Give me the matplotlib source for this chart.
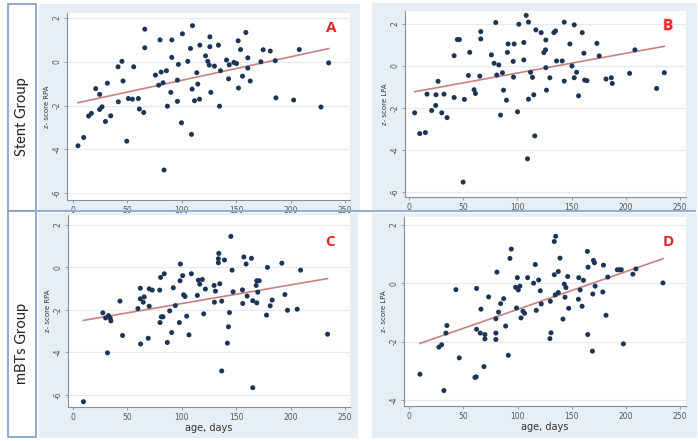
import numpy as np
import matplotlib
matplotlib.use("Agg")
import matplotlib.pyplot as plt
import matplotlib.patheffects as pe
from matplotlib.patches import Rectangle
from matplotlib.lines import Line2D

# ---------------- data ----------------
a_age = [4.6, 9.8, 14.4, 16.9, 20.9, 24.5, 24.5, 26.7, 29.8, 31.6, 34.7, 41.4, 41.7, 45, 46, 49.4,
         50.9, 54.6, 55.8, 60.1, 61, 65, 66, 66, 75.8, 80, 78.8, 81, 82.8, 83.7, 85.9, 86.8, 89.9,
         90.8, 90.8, 96, 96, 96.9, 99.7, 100.6, 105.5, 108, 108.9, 109.5, 109.8, 111.7, 113.8,
         114.7, 116.3, 116.6, 121.8, 123.9, 125.2, 125.8, 125.8, 126.7, 130, 133.7, 134.7, 135.6,
         141.1, 143, 143.6, 147.9, 150.3, 151.8, 152.1, 154, 155.8, 158.9, 160.7, 160.7, 162.9,
         172.7, 174.8, 181.3, 185.9, 186.5, 202.8, 208, 227.9, 235]
a_z = [-3.84, -3.46, -2.48, -2.36, -1.23, -1.49, -2.18, -2.06, -2.73, -0.98, -2.47, -0.23, -1.83,
       0.02, -0.88, -3.63, -1.68, -1.71, -0.23, -1.68, -2.16, -2.32, 1.49, 0.64, -0.61, 1.0, -1.07,
       -0.47, -0.96, -4.95, -0.41, -2.03, -1.40, 1.0, 0.2, -0.84, -1.81, -0.12, -2.79, 1.28, 0.02,
       0.61, -3.32, -1.25, 1.65, -1.78, -0.50, -1.02, -1.71, 0.76, 0.27, 0.02, -0.15, 1.14, 0.69,
       -1.40, -0.20, 0.76, -2.03, -0.41, 0.08, -0.78, -0.14, -0.03, -0.08, 0.96, -1.20, 0.56, -0.66,
       1.34, 0.18, -0.29, -0.88, 0.0, 0.55, 0.49, 0.05, -1.65, -1.75, 0.56, -2.07, -0.05]

b_age = [5.2, 9.9, 15.1, 16.6, 20.9, 24.6, 24.9, 26.8, 30.2, 32.3, 35.1, 41.6, 41.6, 44.6, 46.5,
         49.9, 51.1, 54.8, 56, 60, 61.3, 65.3, 66.2, 66.2, 76, 78.5, 80, 81, 82.8, 84.4, 86.2, 87.2,
         89.9, 90.8, 91.4, 96.1, 96.4, 97, 100.1, 101.3, 105.9, 105.9, 108.1, 109.3, 110.2, 110.2,
         112.1, 113.9, 115.1, 116, 117, 121.9, 124.4, 125.9, 126.2, 126.2, 126.8, 129.9, 133.6,
         135.2, 136.1, 141.3, 143.2, 143.2, 148.4, 150.3, 152.4, 152.4, 154.6, 156.4, 159.8, 161.3,
         162, 164.1, 173.3, 175.4, 181.7, 186.6, 187.5, 203.5, 208.4, 228.4, 235.5]
b_z = [-2.23, -3.22, -3.17, -1.34, -2.12, -1.88, -1.37, -0.73, -2.23, -1.34, -2.46, 0.49, -1.50,
       1.26, 1.26, -5.53, -1.59, -0.45, 0.65, -1.13, -1.31, -0.48, 1.29, 1.64, 0.53, 0.13, 2.07,
       -0.43, 0.05, -2.34, -0.32, -1.15, -1.63, 0.65, 1.05, 0.22, -0.53, 1.05, -2.18, 1.99, 0.29,
       1.12, 2.41, -4.42, 2.09, -1.58, -0.30, -0.54, -1.37, -3.33, 1.72, 1.59, 0.64, 0.77, 1.24,
       -0.08, -1.15, -0.56, 1.59, 1.67, 0.24, 0.24, -0.72, 2.09, 1.05, 0.0, 1.96, -0.56, -0.30,
       -1.42, 1.59, 0.61, -0.67, -0.70, 1.08, 0.48, -0.62, -0.56, -0.83, -0.35, 0.77, -1.07, -0.32]

c_age = [9.8, 27.6, 30.1, 31.9, 32.8, 34.4, 35, 43.3, 45.7, 59.8, 62, 62, 62.3, 64.7, 65.6, 69.3,
         70.2, 70.2, 73, 79.8, 80.1, 80.7, 81.3, 82.8, 84, 86.8, 89, 90.8, 92.3, 94.2, 97.9, 98.5,
         98.8, 100.9, 101.8, 103.1, 104.6, 106.7, 108.9, 114.4, 115.3, 116.6, 119, 120.2, 121.8,
         129.8, 130.1, 131, 134.1, 133.7, 133.7, 135, 136.8, 136.8, 139.3, 142, 143, 143.9, 145.2,
         146.3, 147.2, 155.8, 156.1, 157.1, 159.2, 160.1, 164.1, 165.3, 165.3, 168.4, 169, 169,
         169.9, 171.2, 178.8, 177.9, 181.3, 183.1, 192, 194.8, 197.2, 206.1, 209.2, 234]
c_z = [-6.33, -2.14, -2.38, -4.03, -2.27, -2.39, -2.52, -1.59, -3.21, -1.94, -1.48, -0.98, -3.61,
       -1.64, -1.39, -3.34, -1.83, -1.01, -1.07, -1.07, -2.60, -0.47, -2.33, -2.33, -0.30, -3.54,
       -2.05, -3.07, -0.96, -1.80, -2.60, -0.63, 0.16, -0.39, -1.29, -1.37, -2.30, -3.18, -0.30,
       -1.32, -0.60, -0.79, -0.57, -2.19, -1.02, -0.85, -1.64, -1.12, 0.66, 0.41, 0.22, -0.77,
       -1.59, -4.88, 0.35, -3.57, -2.80, -2.13, 1.46, -0.13, -1.15, -1.06, -1.70, 0.49, 0.16,
       -1.35, 0.43, -1.57, -5.67, -0.85, -0.63, -1.67, -1.17, -0.63, 0.0, -2.25, -1.81, -1.54,
       0.20, -1.28, -2.02, -1.97, -0.13, -3.15]

d_age = [9.9, 27.4, 29.9, 32, 33.9, 34.8, 43.1, 46.2, 60.7, 61.9, 62.2, 62.2, 65.6, 66.2, 69, 69.9,
         69.9, 73.3, 80, 80, 80, 81, 82.5, 84.4, 87.2, 89, 91.5, 93, 94.2, 98.2, 99.1, 99.8, 100.7,
         102.2, 103.2, 105, 106.5, 109.3, 114.8, 116.4, 117.3, 119.5, 121, 121.9, 129.9, 130.3,
         130.9, 133.9, 133.9, 135.2, 134.8, 137.6, 137.6, 139.2, 141.9, 143.2, 143.8, 144.7, 146.3,
         147.2, 156.2, 156.5, 157.8, 159.6, 160.8, 164.5, 164.8, 165.1, 169.1, 169.5, 170.1, 171,
         171.6, 178.7, 179.3, 181.7, 183.3, 192.1, 194, 195.8, 197.7, 206.5, 209.3, 234.2]
d_z = [-3.12, -2.19, -2.11, -3.68, -1.71, -1.45, -0.22, -2.56, -3.23, -3.21, -0.18, -1.58, -1.71,
       -0.89, -2.86, -1.76, -1.91, -0.47, -1.22, -1.71, -1.93, 0.38, -0.99, -0.70, -0.53, -1.47,
       -2.47, 0.85, 1.17, -0.14, -0.85, 0.19, -0.23, -0.10, -1.19, -0.96, -1.03, 0.19, 0.0, 0.64,
       -0.93, 0.11, -0.26, -0.71, -1.90, -0.62, -1.70, 0.29, 1.43, 1.61, -0.40, -0.32, 0.40, 0.86,
       -1.23, -0.03, -0.48, -0.15, 0.23, -0.86, -0.55, 0.19, -0.23, -0.79, 0.10, 1.09, -1.76, 0.55,
       -2.33, -0.37, 0.78, 0.70, -0.10, -0.30, 0.62, -1.10, 0.21, 0.46, 0.46, 0.46, -2.08, 0.31,
       0.49, 0.01]

panel_letters = ["A", "B", "C", "D"]
y_labels = ["z- score RPA", "z- score LPA", "z- score RPA", "z- score LPA"]
x_ticks = [0, 50, 100, 150, 200, 250]
y_ticks_abc = [2, 0, -2, -4, -6]
y_ticks_d = [2, 0, -2, -4]
group_labels = ["Stent Group", "mBTs Group"]
x_title = "age, days"

# ---------------- figure ----------------
W, H = 698, 441
fig = plt.figure(figsize=(W / 100, H / 100), dpi=100)
fig.patch.set_facecolor("white")

def fr(x0, y0, x1, y1):
    """pixel box (top-left origin) -> figure fraction rect"""
    return [x0 / W, 1 - y1 / H, (x1 - x0) / W, (y1 - y0) / H]

BG = "#e7eff5"
# panel backgrounds
for (x0, y0, x1, y1) in [(39, 4, 360, 210), (372, 3, 697, 210), (39, 213, 358, 438), (372, 213, 697, 438)]:
    r = fr(x0, y0, x1, y1)
    fig.patches.append(Rectangle((r[0], r[1]), r[2], r[3], transform=fig.transFigure,
                                 facecolor=BG, edgecolor="none", zorder=-3))

# group label boxes
BOX = "#7f9ccb"
for (x0, y0, x1, y1), lab, cy in [((8, 4, 36, 211), group_labels[0], 117),
                                  ((8, 211, 36, 437), group_labels[1], 343)]:
    r = fr(x0, y0, x1, y1)
    fig.patches.append(Rectangle((r[0], r[1]), r[2], r[3], transform=fig.transFigure,
                                 facecolor="white", edgecolor=BOX, linewidth=1.2, zorder=-2))
    fig.text(22 / W, 1 - cy / H, lab, rotation=90, ha="center", va="center",
             fontsize=10.5, family="Lato", color="#222222")

# separator line
fig.lines.append(Line2D([36 / W, 695 / W], [1 - 211 / H, 1 - 211 / H], transform=fig.transFigure,
                        color="#8fb0d8", linewidth=1.5, zorder=5))

# axes specs: pixel box, xlim, ylim
specs = [
    ((67, 13, 350, 200), (-5.5, 254.6), (-6.32, 2.23), y_ticks_abc, a_age, a_z, (331, 28)),
    ((405, 11, 686, 197), (-3.7, 255.5), (-6.24, 2.62), y_ticks_abc, b_age, b_z, (668, 26)),
    ((68, 215, 350, 407), (-4.4, 254.6), (-6.58, 2.47), y_ticks_abc, c_age, c_z, (330, 242)),
    ((404, 217, 686, 406), (-4.8, 255.5), (-4.21, 2.27), y_ticks_d, d_age, d_z, (668, 242)),
]

DOT = "#1c3556"
LINE = "#c98080"
SPINE = "#8a8f94"
GRID = "#e4ebf0"

for i, (box, xl, yl, yt, xs, ys, lpos) in enumerate(specs):
    ax = fig.add_axes(fr(*box))
    ax.set_zorder(1)
    ax.set_facecolor("white")
    ax.set_xlim(*xl)
    ax.set_ylim(*yl)
    for s in ["top", "right"]:
        ax.spines[s].set_visible(False)
    for s in ["left", "bottom"]:
        ax.spines[s].set_color(SPINE)
        ax.spines[s].set_linewidth(0.8)
    ax.set_xticks(x_ticks)
    ax.set_yticks(yt)
    ax.set_yticklabels([str(v) for v in yt])
    ax.tick_params(axis="both", colors=SPINE, labelcolor="#555555", labelsize=5.5,
                   length=2.5, width=0.6, pad=1.5)
    ax.tick_params(axis="y", labelrotation=90)
    for t in ax.get_yticklabels():
        t.set_va("center")
    ax.grid(axis="y", color=GRID, linewidth=0.8)
    ax.set_axisbelow(True)
    ax.set_ylabel(y_labels[i], fontsize=5, color="#333333", labelpad=2)
    if i >= 2:
        ax.set_xlabel(x_title, fontsize=7, color="#333333", labelpad=1)

    xa = np.asarray(xs, float)
    ya = np.asarray(ys, float)
    ax.scatter(xa, ya, s=13, color=DOT, edgecolors="none", zorder=3)
    k, b0 = np.polyfit(xa, ya, 1)
    xx = np.array([xa.min(), xa.max()])
    ax.plot(xx, k * xx + b0, color=LINE, linewidth=1.2, zorder=2)

    txt = fig.text(lpos[0] / W, 1 - lpos[1] / H, panel_letters[i], ha="center", va="center",
                   fontsize=11, fontweight="bold", color="#e8232a", family="Open Sans", zorder=6)
    if panel_letters[i] == "B":
        txt.set_path_effects([pe.withStroke(linewidth=1.5, foreground="#ffd0d0")])

fig.savefig("out.png", dpi=100, facecolor="white")
